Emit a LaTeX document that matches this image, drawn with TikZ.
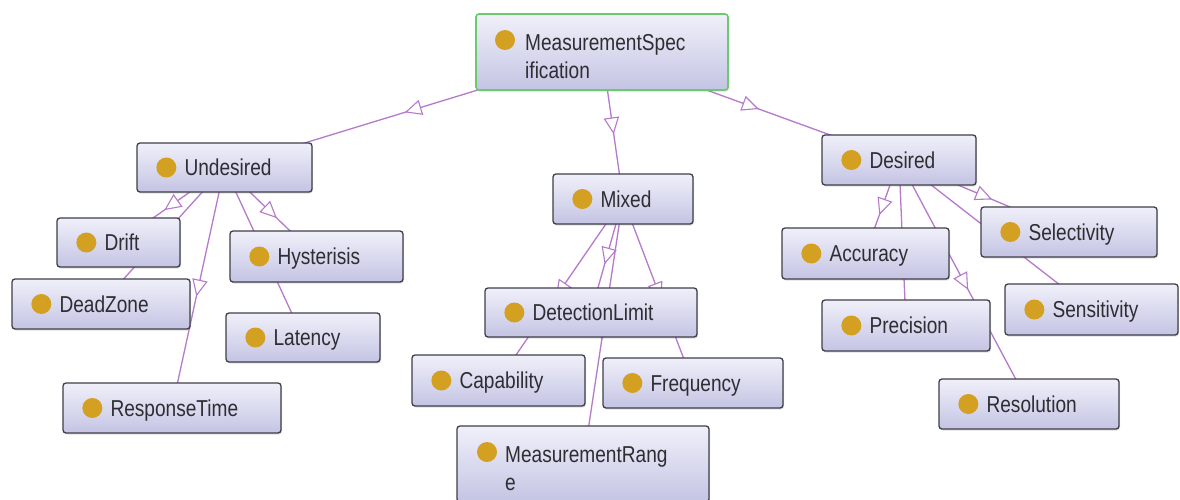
\documentclass[tikz,border=0pt]{standalone}
\usepackage{fontspec}
\newfontfamily\ogfont[FakeStretch=0.83]{Liberation Sans}
\usetikzlibrary{backgrounds,decorations.markings,shadows,calc}
\definecolor{edgec}{RGB}{182,122,202}
\definecolor{boxborder}{RGB}{62,62,72}
\definecolor{boxtop}{RGB}{240,240,250}
\definecolor{boxbot}{RGB}{196,196,228}
\definecolor{dotc}{RGB}{212,160,34}
\definecolor{msgreen}{RGB}{110,200,110}
\definecolor{txt}{RGB}{45,45,50}
\tikzset{
  ogbox/.style={draw=boxborder, line width=1.3pt, rounded corners=3pt,
    top color=boxtop, bottom color=boxbot, inner sep=0pt,
    drop shadow={shadow xshift=1pt, shadow yshift=-1.5pt, opacity=0.25}},
  ogdot/.style={fill=dotc},
  oglabel/.style={inner sep=0pt, text=txt, font=\ogfont\fontsize{23}{28}\selectfont},
  isa/.style={draw=edgec, line width=1.3pt, postaction={decorate},
    decoration={markings, mark=at position 0.5 with {
      \draw[edgec, fill=white, line width=1.1pt, line join=miter]
        (7.5pt,0pt) -- (-7.5pt,7pt) -- (-7.5pt,-7pt) -- cycle;}}}
}
\newcommand\ogclass[6]{%
  \node[ogbox, minimum width={(#4)-(#2)}, minimum height={(#5)-(#3)}] (#1)
    at ({((#2)+(#4))/2},{((#3)+(#5))/2}) {};
  \fill[ogdot] ([xshift=30pt]#1.west) circle[radius=10pt];
  \node[oglabel, anchor=base west] (#1-t) at ([xshift=48pt,yshift=-8.2pt]#1.west) {#6};
}
\begin{document}
\begin{tikzpicture}[x=1pt,y=-1pt]
\begin{pgfonlayer}{background}
\fill[white] (0,0) rectangle (1180,499);
\end{pgfonlayer}
\useasboundingbox (0,0) rectangle (1180,499);

% top node
\node[ogbox, draw=msgreen, line width=1.6pt, minimum width=252pt, minimum height=76pt] (ms) at (602,52) {};
\fill[ogdot] (505,40) circle[radius=10pt];
\node[oglabel, anchor=base west] (ms-t1) at (525,50) {MeasurementSpec};
\node[oglabel, anchor=base west] (ms-t2) at (525,78) {ification};

\ogclass{und}{137}{143}{312}{192}{Undesired}
\ogclass{mix}{553}{174}{693}{224}{Mixed}
\ogclass{des}{822}{135}{976}{185}{Desired}
\ogclass{drift}{57}{218}{180}{267}{Drift}
\ogclass{dead}{12}{279}{190}{329}{DeadZone}
\ogclass{hys}{230}{231}{403}{282}{Hysterisis}
\ogclass{lat}{226}{313}{380}{362}{Latency}
\ogclass{resp}{63}{383}{281}{433}{ResponseTime}
\ogclass{det}{485}{288}{697}{337}{DetectionLimit}
\ogclass{cap}{412}{355}{585}{406}{Capability}
\ogclass{freq}{603}{358}{783}{408}{Frequency}
\ogclass{acc}{782}{228}{949}{279}{Accuracy}
\ogclass{sel}{981}{207}{1157}{257}{Selectivity}
\ogclass{prec}{822}{300}{990}{351}{Precision}
\ogclass{sens}{1005}{284}{1178}{335}{Sensitivity}
\ogclass{res}{939}{379}{1119}{429}{Resolution}

% two-line bottom node
\node[ogbox, minimum width=252pt, minimum height=76pt] (mr) at (583,464) {};
\fill[ogdot] (487,452) circle[radius=10pt];
\node[oglabel, anchor=base west] (mr-t1) at (505,462) {MeasurementRang};
\node[oglabel, anchor=base west] (mr-t2) at (505,490) {e};

\begin{pgfonlayer}{background}
\draw[isa] (ms.center) -- (und.center);
\draw[isa] (ms.center) -- (mix.center);
\draw[isa] (ms.center) -- (des.center);
\draw[isa] (und.center) -- (drift.center);
\draw[isa] (und.center) -- (dead.center);
\draw[isa] (und.center) -- (resp.center);
\draw[isa] (und.center) -- (hys.center);
\draw[isa] (und.center) -- (lat.center);
\draw[isa] (mix.center) -- (cap.center);
\draw[isa] (mix.center) -- (det.center);
\draw[isa] (mix.center) -- (mr.center);
\draw[isa] (mix.center) -- (freq.center);
\draw[isa] (des.center) -- (acc.center);
\draw[isa] (des.center) -- (prec.center);
\draw[isa] (des.center) -- (res.center);
\draw[isa] (des.center) -- (sel.center);
\draw[isa] (des.center) -- (sens.center);
\end{pgfonlayer}
\end{tikzpicture}
\end{document}
